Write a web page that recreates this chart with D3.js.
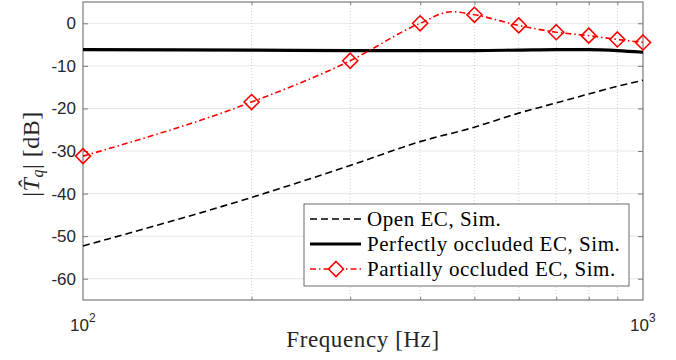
<!DOCTYPE html>
<html>
<head>
<meta charset="utf-8">
<script src="https://cdn.jsdelivr.net/npm/d3@7"></script>
<style>
  body { margin: 0; background: #fff; }
  svg { display: block; }
</style>
</head>
<body>
<div id="app"></div>
<script>
// values
const freqs = [100, 200, 300, 400, 500, 600, 700, 800, 900, 1000];
const openSim = [-52.3, -40.9, -33.4, -27.8, -24.4, -21.1, -18.7, -16.6, -14.8, -13.4];
const occludedSim = [-6.2, -6.3, -6.4, -6.4, -6.4, -6.3, -6.2, -6.2, -6.4, -6.8];
// partially occluded curve (markers at every 100 Hz, peak read between 400 and 500)
const partialFreqs = [100, 200, 300, 400, 455, 500, 600, 700, 800, 900, 1000];
const partialSim = [-31.2, -18.5, -8.8, 0, 2.7, 2.0, -0.5, -2.1, -2.9, -3.8, -4.5];
const markerFreqs = [100, 200, 300, 400, 500, 600, 700, 800, 900, 1000];
const yTicks = [0, -10, -20, -30, -40, -50, -60];
const legendLabels = ['Open EC, Sim.', 'Perfectly occluded EC, Sim.', 'Partially occluded EC, Sim.'];

const width = 676, height = 360;
const pLeft = 83, pRight = 643, pTop = 2, pBottom = 300;

const svg = d3.select('#app').append('svg').attr('width', width).attr('height', height);

const x = d3.scaleLog().domain([100, 1000]).range([pLeft, pRight]);
const y = d3.scaleLinear().domain([-65, 5]).range([pBottom, pTop]);

const minorX = freqs.filter(f => f !== 100 && f !== 1000);

// grid
const grid = svg.append('g');
grid.selectAll('.hgrid').data(yTicks).enter().append('line')
    .attr('x1', pLeft).attr('x2', pRight)
    .attr('y1', d => y(d)).attr('y2', d => y(d))
    .attr('stroke', '#e6e6e6').attr('stroke-width', 1);
grid.selectAll('.vgrid').data(minorX).enter().append('line')
    .attr('x1', d => x(d)).attr('x2', d => x(d))
    .attr('y1', pTop).attr('y2', pBottom)
    .attr('stroke', '#cfcfcf').attr('stroke-width', 1)
    .attr('stroke-dasharray', '1,2');

// box + ticks
const axisColor = '#7a7a7a';
svg.append('rect').attr('x', pLeft).attr('y', pTop)
    .attr('width', pRight - pLeft).attr('height', pBottom - pTop)
    .attr('fill', 'none').attr('stroke', axisColor).attr('stroke-width', 1.2);

const yAxis = svg.append('g').attr('transform', `translate(${pLeft},0)`)
    .call(d3.axisLeft(y).tickValues(yTicks).tickSizeInner(-5).tickSizeOuter(0).tickPadding(7)
        .tickFormat(d => String(d)));
yAxis.select('.domain').remove();
yAxis.selectAll('line').attr('stroke', axisColor);
yAxis.selectAll('text').attr('font-family', 'Liberation Sans, Arial, sans-serif')
    .attr('font-size', 17).attr('fill', '#262626');

const yAxisR = svg.append('g').attr('transform', `translate(${pRight},0)`)
    .call(d3.axisRight(y).tickValues(yTicks).tickSizeInner(-5).tickSizeOuter(0).tickFormat(''));
yAxisR.select('.domain').remove();
yAxisR.selectAll('line').attr('stroke', axisColor);

const xAxisB = svg.append('g').attr('transform', `translate(0,${pBottom})`)
    .call(d3.axisBottom(x).tickValues(minorX).tickSizeInner(-3).tickSizeOuter(0).tickFormat(''));
xAxisB.select('.domain').remove();
xAxisB.selectAll('line').attr('stroke', axisColor);
const xAxisT = svg.append('g').attr('transform', `translate(0,${pTop})`)
    .call(d3.axisTop(x).tickValues(minorX).tickSizeInner(-3).tickSizeOuter(0).tickFormat(''));
xAxisT.select('.domain').remove();
xAxisT.selectAll('line').attr('stroke', axisColor);

// x tick labels 10^2, 10^3
const decades = [100, 1000];
const xl = svg.selectAll('.xlab').data(decades).enter().append('text')
    .attr('x', d => x(d) - 13).attr('y', 331)
    .attr('font-family', 'Liberation Sans, Arial, sans-serif')
    .attr('font-size', 17).attr('fill', '#262626');
xl.append('tspan').text('10');
xl.append('tspan').attr('font-size', 12).attr('dy', -9).text(d => Math.log10(d));

// data lines
const lineSmooth = d3.line().x(d => x(d[0])).y(d => y(d[1])).curve(d3.curveMonotoneX);

svg.append('path').datum(d3.zip(freqs, openSim))
    .attr('d', lineSmooth).attr('fill', 'none')
    .attr('stroke', '#000').attr('stroke-width', 1.6).attr('stroke-dasharray', '7,4');

svg.append('path').datum(d3.zip(freqs, occludedSim))
    .attr('d', lineSmooth).attr('fill', 'none')
    .attr('stroke', '#000').attr('stroke-width', 3.2);

const red = '#ff0000';
svg.append('path').datum(d3.zip(partialFreqs, partialSim))
    .attr('d', lineSmooth).attr('fill', 'none')
    .attr('stroke', red).attr('stroke-width', 1.6).attr('stroke-dasharray', '6,3,1.5,3');

const diamond = s => `M0,${-s}L${s},0L0,${s}L${-s},0Z`;
svg.selectAll('.mk').data(markerFreqs).enter().append('path')
    .attr('transform', d => `translate(${x(d)},${y(partialSim[partialFreqs.indexOf(d)])})`)
    .attr('d', diamond(7.5))
    .attr('fill', 'none').attr('stroke', red).attr('stroke-width', 1.6);

// axis labels
const serif = 'Liberation Serif, Times New Roman, serif';
svg.append('text').attr('x', (pLeft + pRight) / 2).attr('y', 347)
    .attr('text-anchor', 'middle').attr('font-family', serif).attr('font-size', 23)
    .attr('letter-spacing', 0.6).attr('fill', '#262626').text('Frequency [Hz]');

const yl = svg.append('text').attr('transform', 'translate(39,154) rotate(-90)')
    .attr('text-anchor', 'middle').attr('font-family', serif).attr('font-size', 24)
    .attr('letter-spacing', 0.5).attr('fill', '#262626');
yl.append('tspan').text('|');
yl.append('tspan').attr('font-style', 'italic').text('T\u0302');
yl.append('tspan').attr('font-style', 'italic').attr('font-size', 16).attr('dy', 4).text('q');
yl.append('tspan').attr('dy', -4).text('| [dB]');

// legend
const lg = svg.append('g');
lg.append('rect').attr('x', 304).attr('y', 204).attr('width', 325).attr('height', 82)
    .attr('fill', '#fff').attr('stroke', '#6a6a6a').attr('stroke-width', 1);
const rows = [219, 244, 269];
const styles = [
    { stroke: '#000', w: 1.6, dash: '7,4' },
    { stroke: '#000', w: 3.2, dash: null },
    { stroke: red, w: 1.6, dash: '6,3,1.5,3' }
];
legendLabels.forEach((lab, i) => {
    lg.append('line').attr('x1', 310).attr('x2', 361).attr('y1', rows[i]).attr('y2', rows[i])
        .attr('stroke', styles[i].stroke).attr('stroke-width', styles[i].w)
        .attr('stroke-dasharray', styles[i].dash);
    if (i === 2) {
        lg.append('path').attr('transform', `translate(336,${rows[i]})`).attr('d', diamond(7.5))
            .attr('fill', '#fff').attr('stroke', red).attr('stroke-width', 1.6);
    }
    lg.append('text').attr('x', 367).attr('y', rows[i] + 7)
        .attr('font-family', serif).attr('font-size', 21).attr('letter-spacing', 0.55)
        .attr('fill', '#000').text(lab);
});
</script>
</body>
</html>
